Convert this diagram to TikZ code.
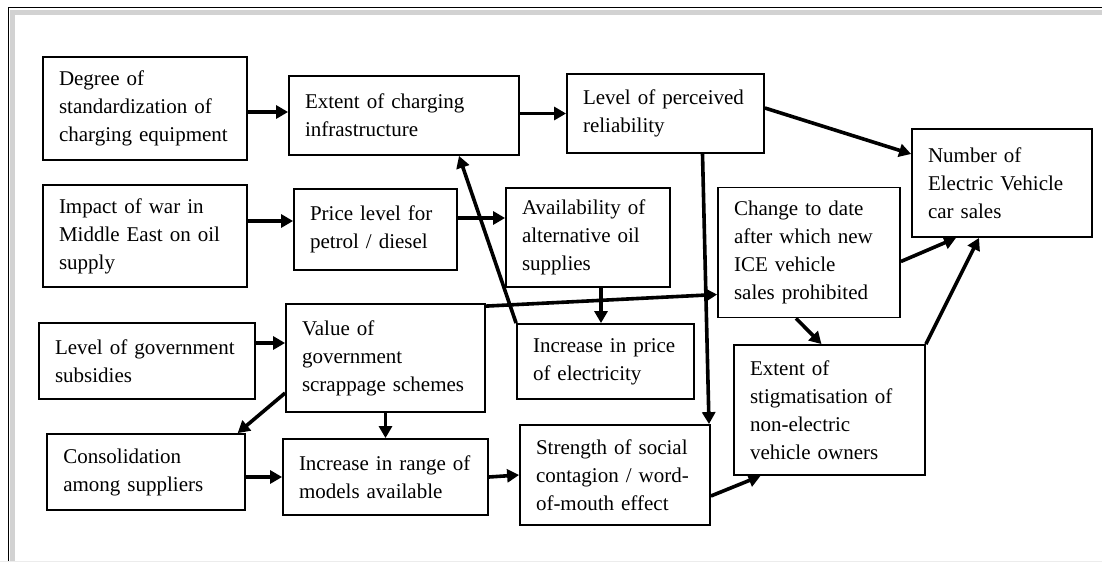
\documentclass[tikz,border=0pt]{standalone}
\usepackage{fontspec}
\setmainfont{Liberation Serif}
\usetikzlibrary{arrows.meta}

\begin{document}
\begin{tikzpicture}[x=1pt,y=-1pt,every node/.style={rectangle,draw=black,line width=1.8pt,align=left,inner xsep=16pt,inner ysep=4pt,font=\fontsize{21}{28}\selectfont},
  arr/.style={line width=3.6pt,-{Triangle[length=12pt,width=13pt]}}]
  \useasboundingbox (0,0) rectangle (1102,562);

  % Marco
  \draw[gray!35, line width=5pt] (12,562) -- (12,12) -- (1102,12);
  \draw[line width=1.5pt] (8.5,562) -- (8.5,7.5) -- (1102,7.5);
  \draw[gray!15, line width=1pt] (0,561) -- (1102,561);

  % Cajas
  \node[text width=172pt,minimum height=103pt] (std) at (145,108.5) {Degree of\\standardization of\\charging equipment};
  \node[text width=198pt,minimum height=79pt] (infra) at (404,115.5) {Extent of charging\\infrastructure};
  \node[text width=165pt,minimum height=79pt] (reliab) at (665.5,113.5) {Level of perceived\\reliability};
  \node[text width=148pt,minimum height=108pt] (sales) at (1002,183) {Number of\\Electric Vehicle\\car sales};
  \node[text width=172pt,minimum height=102pt] (war) at (145,236) {Impact of war in\\Middle East on oil\\supply};
  \node[text width=131pt,minimum height=81pt] (petrol) at (375.5,229.5) {Price level for\\petrol / diesel};
  \node[text width=132pt,minimum height=99pt] (altoil) at (588,237.5) {Availability of\\alternative oil\\supplies};
  \node[text width=150pt,minimum height=130pt] (ban) at (809,252.5) {Change to date\\after which new\\ICE vehicle\\sales prohibited};
  \node[text width=184pt,minimum height=76pt] (subsid) at (147,361) {Level of government\\subsidies};
  \node[text width=167pt,minimum height=108pt] (scrap) at (385.5,358) {Value of\\government\\scrappage schemes};
  \node[text width=145pt,minimum height=75pt] (elec) at (605.5,361.5) {Increase in price\\of electricity};
  \node[text width=159pt,minimum height=130pt] (stigma) at (829.5,410) {Extent of\\stigmatisation of\\non-electric\\vehicle owners};
  \node[text width=165.5pt,minimum height=76pt] (consol) at (146,472) {Consolidation\\among suppliers};
  \node[text width=173pt,minimum height=76pt] (range) at (385.5,477) {Increase in range of\\models available};
  \node[text width=158pt,minimum height=100pt] (social) at (615,475) {Strength of social\\contagion / word-\\of-mouth effect};

  % Flechas
  \foreach \from/\to in {scrap.south/range.north, range.east/social.west}
    \draw[arr] (\from) -- (\to);
  \draw[arr] ([yshift=2pt]infra.east) -- (reliab.west);
  \draw[arr] ([yshift=-3.5pt]std.east) -- ([yshift=3.5pt]infra.west);
  \draw[arr] ([yshift=15pt]war.east) -- ([yshift=8.5pt]petrol.west);
  \draw[arr] ([yshift=11.5pt]petrol.east) -- ([yshift=19.5pt]altoil.west);
  \draw[arr] ([yshift=5.5pt]reliab.east) -- ([yshift=29pt]sales.west);
  \draw[arr] ([xshift=13pt]altoil.south) -- ([xshift=-4.5pt]elec.north);
  \draw[arr] (elec.north west) -- ([xshift=55pt]infra.south);
  \draw[arr] ([yshift=-3pt]scrap.north east) -- ([yshift=-42pt]ban.west);
  \draw[arr] ([xshift=37pt]reliab.south) -- ([xshift=94pt]social.north);
  \draw[arr] ([yshift=-9pt]ban.east) -- ([xshift=-46pt]sales.south);
  \draw[arr] (stigma.north east) -- ([xshift=-23pt]sales.south);
  \draw[arr] ([xshift=-13pt]ban.south) -- ([xshift=-8pt]stigma.north);
  \draw[arr] ([yshift=-21pt]social.east) -- ([xshift=-69pt]stigma.south);
  \draw[arr] ([yshift=18pt]subsid.east) -- ([yshift=15pt]scrap.west);
  \draw[arr] ([yshift=-35pt]scrap.west) -- ([xshift=-8pt]consol.north east);
  \draw[arr] ([yshift=-5pt]consol.east) -- (range.west);
\end{tikzpicture}
\end{document}
